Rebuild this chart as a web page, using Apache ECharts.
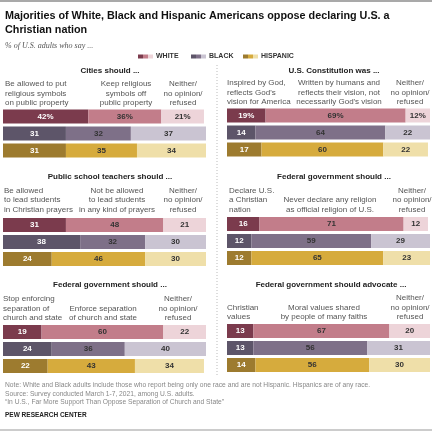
<!DOCTYPE html>
<html><head><meta charset="utf-8">
<script src="https://cdn.jsdelivr.net/npm/echarts@6/dist/echarts.min.js"></script>
<style>html,body{margin:0;padding:0;background:#fff}#c{width:443px;height:433px}</style>
</head><body><div id="c"></div>
<script>
// ---------- data ----------
const groups = ['WHITE', 'BLACK', 'HISPANIC'];
const citiesValues = [[42, 36, 21], [31, 32, 37], [31, 35, 34]];
const constitutionValues = [[19, 69, 12], [14, 64, 22], [17, 60, 22]];
const teachersValues = [[31, 48, 21], [38, 32, 30], [24, 46, 30]];
const declareValues = [[16, 71, 12], [12, 59, 29], [12, 65, 23]];
const separationValues = [[19, 60, 22], [24, 36, 40], [22, 43, 34]];
const advocateValues = [[13, 67, 20], [13, 56, 31], [14, 56, 30]];

const panelTitles = ['Cities should ...', 'U.S. Constitution was ...', 'Public school teachers should ...',
  'Federal government should ...', 'Federal government should ...', 'Federal government should advocate ...'];
const citiesHeads = [['Be allowed to put', 'religious symbols', 'on public property'], ['Keep religious', 'symbols off', 'public property'], ['Neither/', 'no opinion/', 'refused']];
const constitutionHeads = [['Inspired by God,', "reflects God's", 'vision for America'], ['Written by humans and', 'reflects their vision, not', "necessarily God's vision"], ['Neither/', 'no opinion/', 'refused']];
const teachersHeads = [['Be allowed', 'to lead students', 'in Christian prayers'], ['Not be allowed', 'to lead students', 'in any kind of prayers'], ['Neither/', 'no opinion/', 'refused']];
const declareHeads = [['Declare U.S.', 'a Christian', 'nation'], ['Never declare any religion', 'as official religion of U.S.'], ['Neither/', 'no opinion/', 'refused']];
const separationHeads = [['Stop enforcing', 'separation of', 'church and state'], ['Enforce separation', 'of church and state'], ['Neither/', 'no opinion/', 'refused']];
const advocateHeads = [['Christian', 'values'], ['Moral values shared', 'by people of many faiths'], ['Neither/', 'no opinion/', 'refused']];

const titleLines = ['Majorities of White, Black and Hispanic Americans oppose declaring U.S. a', 'Christian nation'];
const subtitle = '% of U.S. adults who say ...';
const noteLines = ['Note: White and Black adults include those who report being only one race and are not Hispanic. Hispanics are of any race.',
  'Source: Survey conducted March 1-7, 2021, among U.S. adults.',
  '\u201cIn U.S., Far More Support Than Oppose Separation of Church and State\u201d'];
const credit = 'PEW RESEARCH CENTER';

// ---------- styles / layout ----------
const palette = [
  ['#7b3b4d', '#c27d8a', '#edd4d9'],
  ['#5d5569', '#7e7088', '#cac4d2'],
  ['#9d7b2f', '#d6ab3d', '#efdfa9']
];
const labelColors = ['#ffffff', '#333333', '#333333'];
const FONT = 'Liberation Sans, Arial, sans-serif';

const panels = [
  { vals: citiesValues, heads: citiesHeads, pct: true, left: 3, top: 108, titleX: 110, titleY: 71,
    headX: [5, 126, 183], headAlign: ['left', 'center', 'center'], headBottom: 107.7 },
  { vals: constitutionValues, heads: constitutionHeads, pct: true, left: 227, top: 107, titleX: 334, titleY: 71,
    headX: [227, 339, 410], headAlign: ['left', 'center', 'center'], headBottom: 106.7 },
  { vals: teachersValues, heads: teachersHeads, pct: false, left: 3, top: 216.5, titleX: 110, titleY: 177,
    headX: [4, 117, 183], headAlign: ['left', 'center', 'center'], headBottom: 214 },
  { vals: declareValues, heads: declareHeads, pct: false, left: 227, top: 215.5, titleX: 334, titleY: 177,
    headX: [229, 330, 412], headAlign: ['left', 'center', 'center'], headBottom: 214 },
  { vals: separationValues, heads: separationHeads, pct: false, left: 3, top: 323.5, titleX: 110, titleY: 285,
    headX: [3, 103, 178], headAlign: ['left', 'center', 'center'], headBottom: 322.4 },
  { vals: advocateValues, heads: advocateHeads, pct: false, left: 227, top: 322.5, titleX: 331, titleY: 285,
    headX: [227, 324, 410], headAlign: ['left', 'center', 'center'], headBottom: 321.5 }
];

const grid = [], xAxis = [], yAxis = [], series = [], graphic = [];
panels.forEach((p, pi) => {
  grid.push({ left: p.left, top: p.top, width: 203, height: 51 });
  xAxis.push({ gridIndex: pi, type: 'value', min: 0, max: 100, show: false });
  yAxis.push({ gridIndex: pi, type: 'category', data: groups, inverse: true, show: false });
  for (let s = 0; s < 3; s++) {
    series.push({
      type: 'bar', xAxisIndex: pi, yAxisIndex: pi, stack: 'p' + pi, barWidth: 14,
      silent: true, animation: false,
      data: p.vals.map((row, r) => ({ value: row[s], itemStyle: { color: palette[r][s] } })),
      label: {
        show: true, position: 'inside', fontSize: 8, fontWeight: 'bold', fontFamily: FONT,
        color: labelColors[s],
        formatter: (prm) => prm.value + (p.pct && prm.dataIndex === 0 ? '%' : '')
      }
    });
  }
  graphic.push({ type: 'text', x: p.titleX, y: p.titleY, style: { text: panelTitles[pi], fontSize: 8, fontWeight: 'bold',
    fontFamily: FONT, fill: '#222', textAlign: 'center', textVerticalAlign: 'middle' } });
  p.heads.forEach((lines, k) => {
    graphic.push({ type: 'text', x: p.headX[k], y: p.headBottom, style: { text: lines.join('\n'), fontSize: 8, lineHeight: 9.4,
      fontFamily: FONT, fill: '#555', textAlign: p.headAlign[k], textVerticalAlign: 'bottom' } });
  });
});

// header / footer
graphic.push({ type: 'line', shape: { x1: 0, y1: 1, x2: 432, y2: 1 }, style: { stroke: '#555', lineWidth: 1.2 } });
graphic.push({ type: 'text', x: 5, y: 16, style: { text: titleLines[0], fontSize: 10.8, fontWeight: 'bold', fontFamily: FONT, fill: '#111', textVerticalAlign: 'middle' } });
graphic.push({ type: 'text', x: 5, y: 30, style: { text: titleLines[1], fontSize: 10.8, fontWeight: 'bold', fontFamily: FONT, fill: '#111', textVerticalAlign: 'middle' } });
graphic.push({ type: 'text', x: 5, y: 46, style: { text: subtitle, fontSize: 8, fontStyle: 'italic', fontFamily: 'Liberation Serif, serif', fill: '#555', textVerticalAlign: 'middle' } });

const legendX = [138, 191, 243];
groups.forEach((g, i) => {
  for (let s = 0; s < 3; s++) {
    graphic.push({ type: 'rect', shape: { x: legendX[i] + s * 5, y: 54.5, width: 5, height: 4 }, style: { fill: palette[i][s] } });
  }
  graphic.push({ type: 'text', x: legendX[i] + 18, y: 56.5, style: { text: g, fontSize: 7, fontWeight: 'bold', fontFamily: FONT, fill: '#333', textVerticalAlign: 'middle' } });
});

graphic.push({ type: 'line', shape: { x1: 217, y1: 65, x2: 217, y2: 376 }, style: { stroke: '#bbb', lineWidth: 1, lineDash: [1, 2] } });

noteLines.forEach((t, i) => {
  graphic.push({ type: 'text', x: 5, y: 385 + i * 8.7, style: { text: t, fontSize: 6.7, fontFamily: FONT, fill: '#888', textVerticalAlign: 'middle' } });
});
graphic.push({ type: 'text', x: 5, y: 415, style: { text: credit, fontSize: 6.5, fontWeight: 'bold', fontFamily: FONT, fill: '#222', textVerticalAlign: 'middle' } });
graphic.push({ type: 'line', shape: { x1: 0, y1: 430, x2: 432, y2: 430 }, style: { stroke: '#999', lineWidth: 1 } });

const chart = echarts.init(document.getElementById('c'), null, { renderer: 'canvas' });
chart.setOption({ animation: false, grid, xAxis, yAxis, series, graphic });
</script></body></html>
